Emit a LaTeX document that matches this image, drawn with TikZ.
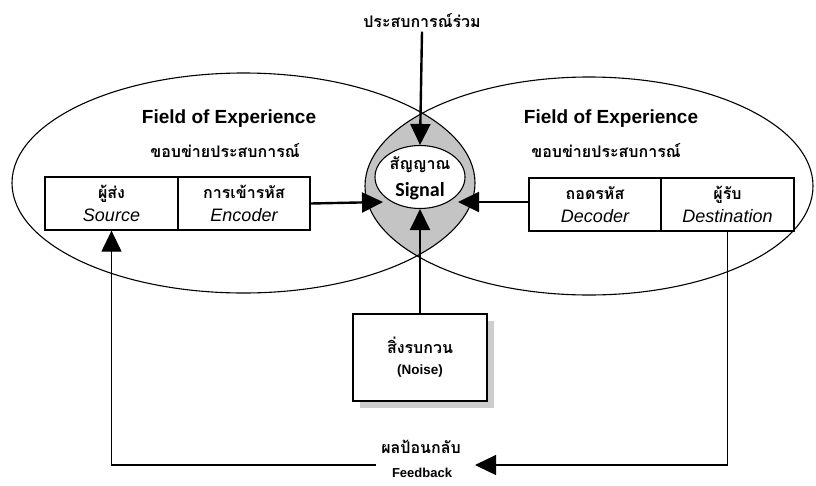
\documentclass[tikz,border=0pt]{standalone}
\usepackage{fontspec}
\setmainfont{Liberation Sans}
\newfontfamily\thaifont[Script=Thai]{Loma}
\newfontfamily\sigfont{Carlito}
\usetikzlibrary{arrows.meta,shapes.geometric,shadows}
\definecolor{lensgray}{RGB}{196,196,196}
\definecolor{shadowgray}{RGB}{205,205,205}
\begin{document}
\begin{tikzpicture}[x=1pt,y=-1pt,
  arr/.style={line width=2.4pt,-{Triangle[length=21pt,width=20pt]}},
  fbarr/.style={line width=1.3pt,-{Triangle[length=21pt,width=20pt]}},
  box/.style={draw,line width=1.3pt,minimum width=133pt,minimum height=53pt,inner sep=0pt,align=center,
    font=\fontsize{18}{23}\selectfont},
  th/.style={font=\thaifont\bfseries\fontsize{16}{20}\selectfont},
  title/.style={font=\bfseries\fontsize{19}{22}\selectfont},
  ell/.style={line width=1.1pt},
]
\useasboundingbox (0,0) rectangle (816,485);

% lens (intersection of the two fields)
\begin{scope}
  \clip (243.5,183) ellipse [x radius=231.5, y radius=110];
  \fill[lensgray] (589,186) ellipse [x radius=224, y radius=109];
\end{scope}
\draw[ell] (243.5,183) ellipse [x radius=231.5, y radius=110];
\draw[ell] (589,186) ellipse [x radius=224, y radius=109];

% titles
\node[title] (t1) at (229,119) {Field of Experience};
\node[th] (s1) at (225,151) {ขอบข่ายประสบการณ์};
\node[title] (t2) at (611,119) {Field of Experience};
\node[th] (s2) at (606,151) {ขอบข่ายประสบการณ์};

% boxes
\node[box] (source) at (111.5,203.5) {{\thaifont\bfseries\fontsize{16}{20}\selectfont ผู้ส่ง}\\{\itshape Source}};
\node[box,minimum width=132pt] (encoder) at (244,203.5) {{\thaifont\bfseries\fontsize{16}{20}\selectfont การเข้ารหัส}\\{\itshape Encoder}};
\node[box,minimum width=132pt] (decoder) at (595,204.5) {{\thaifont\bfseries\fontsize{16}{20}\selectfont ถอดรหัส}\\{\itshape Decoder}};
\node[box] (dest) at (727.5,204.5) {{\thaifont\bfseries\fontsize{16}{20}\selectfont ผู้รับ}\\{\itshape Destination}};

% signal
\node[ellipse,draw,line width=1.1pt,fill=white,minimum width=90pt,minimum height=63pt,inner sep=0pt] (sig) at (420,177) {};
\node[th,inner sep=0pt] (sigth) at (420,165) {สัญญาณ};
\node[font=\sigfont\bfseries\fontsize{20}{22}\selectfont,inner sep=0pt] (sigen) at (420,191) {Signal};

% common experience label
\node[th] (common) at (422,21) {ประสบการณ์ร่วม};

% noise
\node[draw,line width=1.3pt,fill=white,minimum width=134pt,minimum height=87pt,align=center,
  drop shadow={shadow xshift=7pt,shadow yshift=-7pt,fill=shadowgray,opacity=1}] (noise) at (420,357.5)
  {{\thaifont\bfseries\fontsize{16}{20}\selectfont สิ่งรบกวน}\\[9pt]{\bfseries\fontsize{13.5}{16}\selectfont (Noise)}};

% feedback label
\node[th] (fbth) at (421,447) {ผลป้อนกลับ};
\node[font=\bfseries\fontsize{13}{15}\selectfont] (fben) at (422,473) {Feedback};
\coordinate (fbL) at (376,465);
\coordinate (fbR) at (475,465);
\coordinate (sigL) at (383,202);
\coordinate (sigR) at (458,202);

% arrows
\draw[arr] (common.south) -- (sig.north);
\draw[arr] (noise.north) -- (sig.south);
\draw[arr] (encoder.east) -- (sigL);
\draw[arr] (decoder.west |- sigR) -- (sigR);
\draw[fbarr] (dest.south) |- (fbR);
\draw[fbarr] (fbL) -| (source.south);
\end{tikzpicture}
\end{document}
